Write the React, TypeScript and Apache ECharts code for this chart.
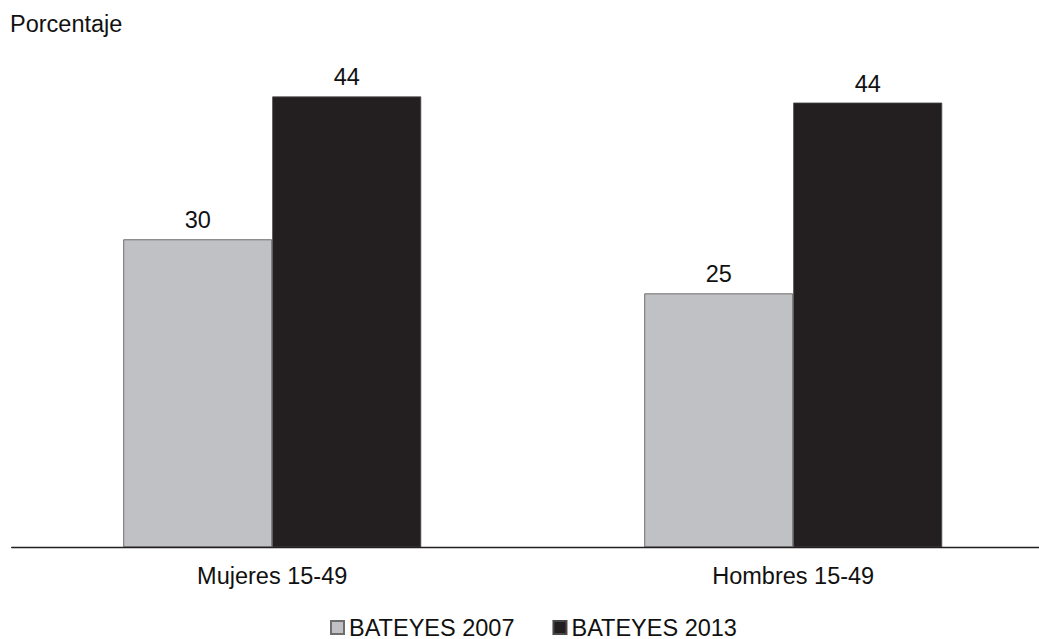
import React, { useEffect, useRef } from "react";
import * as echarts from "echarts";

// Population groups on the category axis
const categories = ["Mujeres 15-49", "Hombres 15-49"];

// Percentage by survey round
const bateyes2007 = [30.2, 24.9];
const bateyes2013 = [44.2, 43.6];

const seriesNames = ["BATEYES 2007", "BATEYES 2013"];
const yAxisTitle = "Porcentaje";

const FONT = "Arial, 'Liberation Sans', Helvetica, sans-serif";
const TEXT_COLOR = "#111111";
const FONT_SIZE = 23.5;

export default function App() {
  const ref = useRef<HTMLDivElement>(null);

  useEffect(() => {
    if (!ref.current) return;
    const prevOverflow = document.body.style.overflow;
    document.body.style.overflow = "hidden";
    const chart = echarts.init(ref.current, undefined, { renderer: "svg" });

    const barLabel = {
      show: true,
      position: "top" as const,
      distance: 7,
      color: TEXT_COLOR,
      fontFamily: FONT,
      fontSize: FONT_SIZE,
      formatter: (p: any) => String(Math.round(p.value)),
    };

    chart.setOption({
      animation: false,
      backgroundColor: "#ffffff",
      title: {
        text: yAxisTitle,
        left: 10,
        top: 12,
        padding: 0,
        textStyle: {
          color: TEXT_COLOR,
          fontFamily: FONT,
          fontSize: FONT_SIZE,
          fontWeight: "normal",
        },
      },
      legend: {
        left: 330,
        top: 615.5,
        padding: 0,
        itemWidth: 13,
        itemHeight: 13,
        itemGap: 38,
        icon: "rect",
        textStyle: {
          color: TEXT_COLOR,
          fontFamily: FONT,
          fontSize: FONT_SIZE,
          lineHeight: 20,
        },
        data: seriesNames,
      },
      // the plot area runs past the right edge; only the axis line is clipped there
      grid: {
        left: 11.7,
        top: 37.3,
        width: 1042,
        height: 510,
        containLabel: false,
      },
      xAxis: {
        type: "category",
        data: categories,
        axisLine: { show: true, lineStyle: { color: "#231f20", width: 1.3 } },
        axisTick: { show: false },
        axisLabel: {
          margin: 17,
          color: TEXT_COLOR,
          fontFamily: FONT,
          fontSize: FONT_SIZE,
        },
        z: 5,
      },
      yAxis: {
        type: "value",
        min: 0,
        max: 50,
        show: false,
        splitLine: { show: false },
      },
      series: [
        {
          name: seriesNames[0],
          type: "bar",
          data: bateyes2007,
          barWidth: 149,
          barGap: "0%",
          itemStyle: { color: "#c0c1c5", borderColor: "#6e6e6e", borderWidth: 1 },
          label: barLabel,
        },
        {
          name: seriesNames[1],
          type: "bar",
          data: bateyes2013,
          barWidth: 149,
          barGap: "0%",
          itemStyle: { color: "#231f20", borderColor: "#4a4748", borderWidth: 0.8 },
          label: barLabel,
        },
      ],
    });

    return () => {
      chart.dispose();
      document.body.style.overflow = prevOverflow;
    };
  }, []);

  return (
    <div
      ref={ref}
      style={{ position: "fixed", left: 0, top: 0, width: 1060, height: 639 }}
    />
  );
}
